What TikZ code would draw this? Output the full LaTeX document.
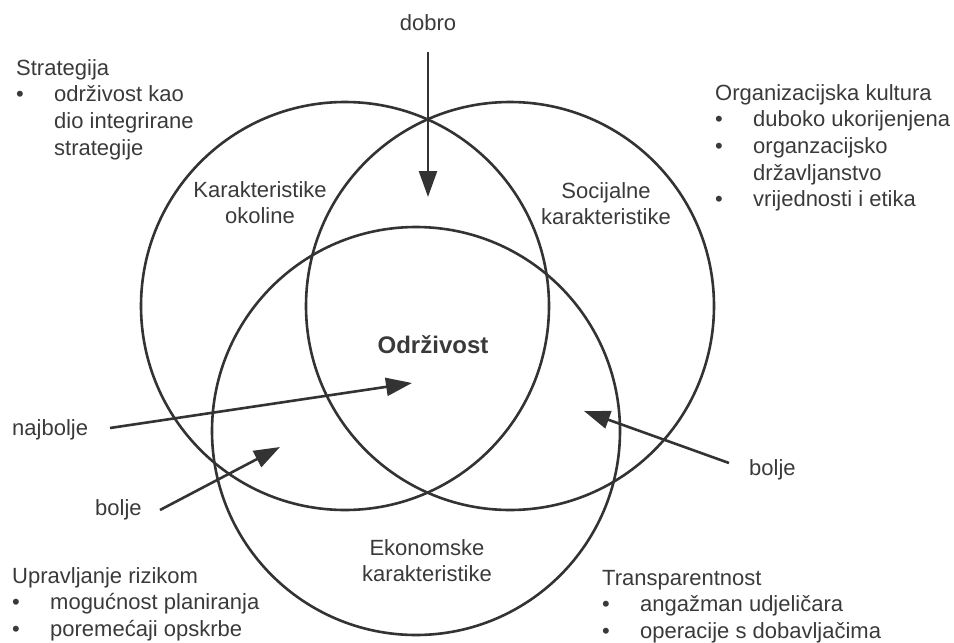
\documentclass[tikz,border=0pt]{standalone}
\usepackage{fontspec}
\setmainfont{Liberation Sans}
\usepackage{xcolor}
\usepackage{tikz}
\usetikzlibrary{arrows.meta}

\definecolor{ink}{HTML}{333333}
\definecolor{txtgray}{HTML}{3A3A3A}

\begin{document}
\begin{tikzpicture}[
		x=1pt, y=-1pt,
		% Styles
		ring/.style={circle, draw=ink, line width=2.6pt, minimum size=408pt, inner sep=0pt},
		txt/.style={inner sep=0pt, text=txtgray, font=\fontsize{22}{26.7}\selectfont},
		centertxt/.style={txt, anchor=base},
		blocktxt/.style={txt, anchor=base west},
		heading/.style={centertxt, font=\fontsize{24}{28}\selectfont\bfseries},
		arrow/.style={draw=ink, line width=2.6pt, -{Triangle[length=26pt, width=18pt]}}
	]

	\useasboundingbox (0,0) rectangle (954,643);

	% --- Three circles ---
	\node[ring] (okolina) at (345,306) {};
	\node[ring] (socijalno) at (510,306) {};
	\node[ring] (ekonomija) at (416,431) {};

	% --- Circle labels ---
	\node[centertxt] (okolina_label) at (260,197) {\begin{tabular}[t]{@{}c@{}}Karakteristike\\okoline\end{tabular}};
	\node[centertxt] (socijalno_label) at (606,198) {\begin{tabular}[t]{@{}c@{}}Socijalne\\karakteristike\end{tabular}};
	\node[centertxt] (ekonomija_label) at (427,555) {\begin{tabular}[t]{@{}c@{}}Ekonomske\\karakteristike\end{tabular}};
	\node[heading] (odrzivost) at (433,353) {Održivost};

	% --- Corner lists ---
	\node[blocktxt] (strategija) at (16,75) {\begin{tabular}[t]{@{}p{38pt}@{}l@{}}
		\multicolumn{2}{@{}l@{}}{Strategija}\\
		\textbullet & održivost kao\\
		 & dio integrirane\\
		 & strategije
	\end{tabular}};
	\node[blocktxt] (kultura) at (715,100) {\begin{tabular}[t]{@{}p{38pt}@{}l@{}}
		\multicolumn{2}{@{}l@{}}{Organizacijska kultura}\\
		\textbullet & duboko ukorijenjena\\
		\textbullet & organzacijsko\\
		 & državljanstvo\\
		\textbullet & vrijednosti i etika
	\end{tabular}};
	\node[blocktxt] (rizik) at (12,583) {\begin{tabular}[t]{@{}p{38pt}@{}l@{}}
		\multicolumn{2}{@{}l@{}}{Upravljanje rizikom}\\
		\textbullet & mogućnost planiranja\\
		\textbullet & poremećaji opskrbe
	\end{tabular}};
	\node[blocktxt] (transparentnost) at (602,585) {\begin{tabular}[t]{@{}p{38pt}@{}l@{}}
		\multicolumn{2}{@{}l@{}}{Transparentnost}\\
		\textbullet & angažman udjeličara\\
		\textbullet & operacije s dobavljačima
	\end{tabular}};

	% --- Arrow labels ---
	\node[centertxt] (dobro) at (428,30) {dobro};
	\node[blocktxt] (najbolje) at (12,435) {najbolje};
	\node[blocktxt] (bolje_lijevo) at (95,515) {bolje};
	\node[blocktxt] (bolje_desno) at (749,475) {bolje};

	% --- Arrow ends ---
	\coordinate (dobro_rep) at (428,52);
	\coordinate (dobro_vrh) at (428,197);
	\coordinate (najbolje_rep) at (110,428);
	\coordinate (najbolje_vrh) at (412,383);
	\coordinate (bolje_lijevo_rep) at (160,510);
	\coordinate (bolje_lijevo_vrh) at (280,447);
	\coordinate (bolje_desno_rep) at (729,463);
	\coordinate (bolje_desno_vrh) at (584,411);

	% --- ARROWS ---
	\draw[arrow] (dobro_rep) -- (dobro_vrh);
	\draw[arrow] (najbolje_rep) -- (najbolje_vrh);
	\draw[arrow] (bolje_lijevo_rep) -- (bolje_lijevo_vrh);
	\draw[arrow] (bolje_desno_rep) -- (bolje_desno_vrh);

\end{tikzpicture}
\end{document}
